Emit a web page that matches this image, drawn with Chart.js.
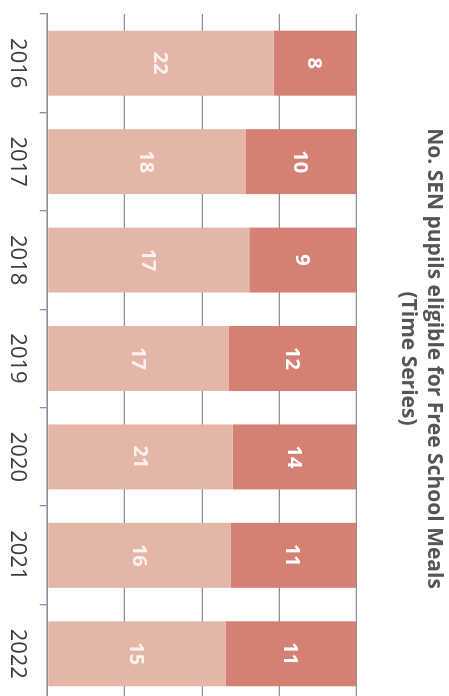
<!DOCTYPE html>
<html>
<head>
<meta charset="utf-8">
<script src="https://cdn.jsdelivr.net/npm/chart.js@4.4.1/dist/chart.umd.min.js"></script>
<style>
html, body { margin:0; padding:0; overflow:hidden; background:#ffffff; width:449px; height:696px; }
#wrap { position:absolute; left:0; top:0; width:717px; height:449px; transform-origin:0 0; transform:translateX(449px) rotate(90deg); }
</style>
</head>
<body>
<div id="wrap"><canvas id="myChart" width="717" height="449"></canvas></div>
<script>

//-------------------------------------------------------------------

var years = ['2016', '2017', '2018', '2019', '2020', '2021', '2022'];
var fsm_low = [22, 18, 17, 17, 21, 16, 15];
var fsm_high = [8, 10, 9, 12, 14, 11, 11];
var pct_ticks = [0, 25, 50, 75, 100];

var title_lines = ['No. SEN pupils eligible for Free School Meals', '(Time Series)'];

// 100% stacked -> turn the counts into shares of each year
function share(part, other){
    var out = [];
    for (let i = 0; i < part.length; i++) {
        out.push(part[i] / (part[i] + other[i]) * 100);
    }
    return out;
}

//-------------------------------------------------------------------

var bar_labels = {
    id: 'bar_labels',
    afterDatasetsDraw(chart){
        var ctx = chart.ctx;
        ctx.save();
        ctx.font = 'bold 20px "Open Sans"';
        ctx.textAlign = 'center';
        ctx.textBaseline = 'middle';
        chart.data.datasets.forEach(function(ds, d){
            var meta = chart.getDatasetMeta(d);
            meta.data.forEach(function(bar, i){
                var p = bar.getProps(['x', 'y', 'base'], true);
                ctx.fillStyle = ds.labelColor;
                ctx.fillText(String(ds.counts[i]), p.x, (p.y + p.base) / 2 + 1);
            });
        });
        ctx.restore();
    }
};

const ctx = document.getElementById('myChart');

const fsm_chart = new Chart(ctx, {
    type: 'bar',
    data: {
        labels: years,
        datasets: [{
            label: 'low',
            data: share(fsm_low, fsm_high),
            counts: fsm_low,
            labelColor: '#fbf1ee',
            backgroundColor: '#e4b6a8',
            categoryPercentage: 1,
            barPercentage: 0.66
        },{
            label: 'high',
            data: share(fsm_high, fsm_low),
            counts: fsm_high,
            labelColor: '#ffffff',
            backgroundColor: '#d48072',
            categoryPercentage: 1,
            barPercentage: 0.66
        }]
    },
    options: {
        responsive: false,
        animation: false,
        layout: { padding: { left: 14, right: 14, top: 0, bottom: 0 } },
        plugins: {
            legend: { display: false },
            tooltip: { enabled: false },
            title: {
                display: true,
                text: title_lines,
                color: '#555555',
                font: { family: '"Open Sans"', size: 21, weight: 'bold', lineHeight: 1.238 },
                padding: { top: 2.3, bottom: 38.7 }
            }
        },
        scales: {
            x: {
                stacked: true,
                grid: { offset: true, drawOnChartArea: false, drawTicks: true, tickLength: 8, color: '#8a9099', lineWidth: 1.3 },
                border: { display: true, color: '#8a9099', width: 1.5 },
                ticks: { color: '#3c3c3c', padding: 9, maxRotation: 0, font: { family: '"Open Sans"', size: 22 } },
                afterFit: function(scale){ scale.height = 47.7; }
            },
            y: {
                stacked: true,
                min: pct_ticks[0],
                max: pct_ticks[pct_ticks.length - 1],
                afterBuildTicks: function(scale){ scale.ticks = pct_ticks.map(function(v){ return { value: v }; }); },
                ticks: { display: false },
                grid: { drawTicks: false, color: '#8a9099', lineWidth: 1.3 },
                border: { display: false },
                afterFit: function(scale){ scale.width = 0; }
            }
        }
    },
    plugins: [bar_labels]
});

</script>
</body>
</html>
